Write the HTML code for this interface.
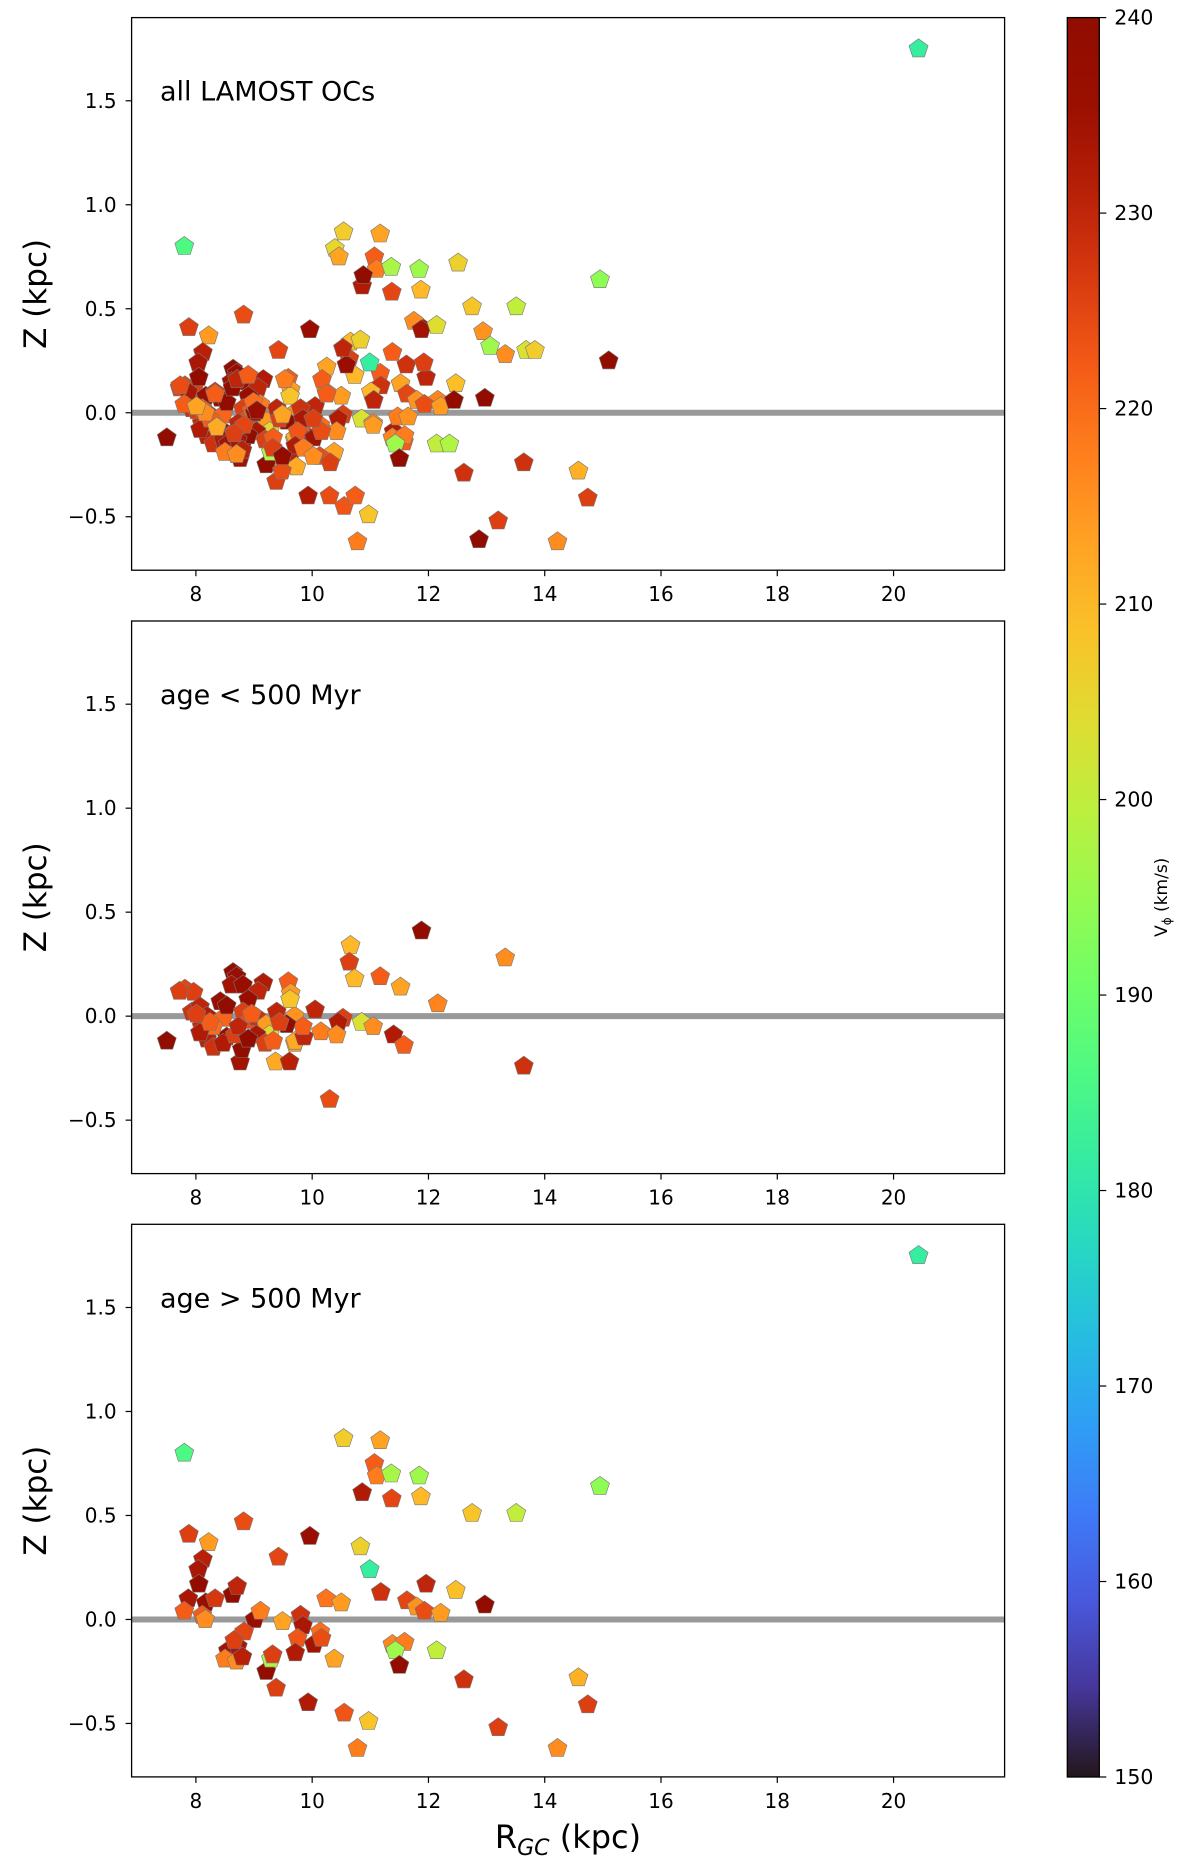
<!DOCTYPE html>
<html><head><meta charset="utf-8">
<style>
html,body{margin:0;padding:0;background:#fff;}
svg{display:block;font-family:"DejaVu Sans","Liberation Sans",sans-serif;}
</style></head>
<body>
<svg id="fig" width="1200" height="1865" viewBox="0 0 1200 1865" xmlns="http://www.w3.org/2000/svg">
<defs><linearGradient id="cbgrad" x1="0" y1="1" x2="0" y2="0"></linearGradient></defs>
</svg>
<script>
// ---- data: [R_GC (kpc), Z (kpc), V_phi (km/s)] ----
const youngR = [11.88,13.32,10.66,10.64,10.73,11.17,11.52,12.16,10.05,10.53,10.45,10.85,11.05,10.15,10.42,11.4,11.58,13.64,10.30,9.37,9.61,9.70,9.71,9.86,9.70,9.84,9.59,9.63,9.62,7.81,7.96,7.93,8.07,8.19,8.10,8.19,8.30,8.42,8.47,8.53,8.64,8.70,8.61,8.81,8.76,8.79,9.16,9.07,8.90,8.81,8.93,9.04,9.21,9.27,9.04,9.19,9.39,9.56,9.44,8.53,8.47,8.67,8.30,8.73,8.07,8.24,9.33,8.90,8.01,8.96,7.5,7.72];
const youngZ = [0.41,0.28,0.34,0.26,0.18,0.19,0.14,0.06,0.03,-0.01,-0.03,-0.03,-0.05,-0.075,-0.09,-0.09,-0.14,-0.24,-0.40,-0.22,-0.22,-0.13,-0.12,-0.10,0.00,-0.05,0.165,0.11,0.08,0.13,0.115,0.02,0.045,0.00,-0.05,-0.11,-0.15,0.07,-0.01,0.05,0.21,0.19,0.15,0.15,-0.22,-0.16,0.16,0.12,0.08,0.02,-0.02,-0.005,-0.04,-0.09,-0.09,-0.13,0.02,-0.04,-0.03,-0.10,-0.13,-0.09,-0.05,-0.05,-0.08,-0.03,-0.12,-0.11,0.01,0.01,-0.12,0.12];
const youngV = [238,216,210,226,210,222,213,217,230,226,232,203,216,218,216,232,222,228,224,212,231,214,212,230,215,222,222,214,208,225,226,228,230,232,229,231,228,236,221,238,238,236,234,236,234,238,232,230,236,226,224,228,214,205,233,226,230,237,226,238,232,226,220,230,232,222,222,238,226,222,238,226];

const oldR = [20.43,7.80,10.54,11.17,11.07,11.11,11.36,11.84,10.86,11.37,11.87,14.95,12.75,13.51,7.88,8.22,8.82,9.96,10.83,9.42,10.99,8.12,8.04,8.05,7.87,8.17,8.33,8.63,8.71,7.80,8.11,8.16,9.01,9.11,9.49,9.80,9.84,10.24,10.50,11.18,11.96,11.63,11.80,11.93,12.21,12.47,12.97,8.83,8.55,8.72,8.66,8.50,8.70,8.80,9.21,9.29,9.32,9.38,9.75,9.71,10.03,10.14,10.16,10.38,9.93,10.55,10.97,10.78,11.38,11.59,11.43,11.50,12.14,12.61,13.20,14.22,14.58,14.74];
const oldZ = [1.75,0.80,0.87,0.86,0.75,0.69,0.70,0.69,0.61,0.58,0.59,0.64,0.51,0.51,0.41,0.37,0.47,0.40,0.35,0.30,0.24,0.29,0.24,0.17,0.10,0.08,0.10,0.12,0.16,0.04,0.02,0.00,0.00,0.04,-0.01,0.02,-0.03,0.10,0.08,0.13,0.17,0.09,0.06,0.04,0.03,0.14,0.07,-0.06,-0.15,-0.13,-0.10,-0.19,-0.20,-0.18,-0.25,-0.19,-0.17,-0.33,-0.09,-0.16,-0.12,-0.06,-0.09,-0.19,-0.40,-0.45,-0.49,-0.62,-0.12,-0.11,-0.15,-0.22,-0.15,-0.29,-0.52,-0.62,-0.28,-0.41];
const oldV = [182,186,207,213,222,218,197,196,232,225,210,194,208,200,226,214,224,236,206,225,182,231,233,237,233,236,227,237,230,222,222,216,236,218,213,228,233,219,214,228,230,225,215,224,214,209,238,225,234,233,226,218,216,231,238,198,226,226,223,232,234,220,224,213,232,223,208,218,217,218,196,238,200,228,226,216,211,226];

// clusters without age (shown only in "all" panel)
const extraR = [10.39,10.46,10.88,12.51,11.75,11.88,12.14,12.94,13.06,13.68,13.83,12.44,11.62,11.92,11.38,11.01,11.06,11.05,10.59,10.53,10.25,10.17,10.25,11.47,11.65,12.36,8.90,9.53,10.02,9.85,10.13,10.31,9.73,9.48,9.49,10.74,10.02,7.73,8.33,8.01,8.99,8.36,8.70,9.05,15.1,12.87];
const extraZ = [0.79,0.75,0.66,0.72,0.44,0.40,0.42,0.39,0.32,0.30,0.30,0.06,0.23,0.24,0.29,0.10,0.06,-0.06,0.23,0.31,0.22,0.16,0.09,-0.02,-0.02,-0.15,0.18,0.16,-0.03,-0.17,-0.21,-0.24,-0.26,-0.28,-0.21,-0.40,-0.21,0.13,0.09,0.03,0.05,-0.07,-0.20,0.01,0.25,-0.61];
const extraV = [205,213,238,206,216,234,204,215,196,203,207,238,228,226,222,210,230,214,236,230,213,222,222,218,215,198,222,218,226,218,224,226,212,224,238,222,216,224,222,213,220,212,216,236,238,239];

const xTicks = [8,10,12,14,16,18,20];
const yTicks = [-0.5,0.0,0.5,1.0,1.5];
const yTickLabels = ["\u22120.5","0.0","0.5","1.0","1.5"];
const cbTicks = [150,160,170,180,190,200,210,220,230,240];
const panelLabels = ["all LAMOST OCs","age < 500 Myr","age > 500 Myr"];

// ---- layout ----
const NS = "http://www.w3.org/2000/svg";
const svg = document.getElementById('fig');
const L = 131.6, W = 873, H = 552.6;
const tops = [17.6, 621, 1224.3];
const xMin = 6.894, xMax = 21.91, yMin = -0.757, yMax = 1.90;
const vMin = 150, vMax = 240;
function xs(v){ return L + (v - xMin) / (xMax - xMin) * W; }
function ys(v, top){ return top + (yMax - v) / (yMax - yMin) * H; }
function turbo(t){
  t = Math.max(0, Math.min(1, t));
  const r = 0.13572138 + t*(4.61539260 + t*(-42.66032258 + t*(132.13108234 + t*(-152.94239396 + t*59.28637943))));
  const g = 0.09140261 + t*(2.19418839 + t*(4.84296658 + t*(-14.18503333 + t*(4.27729857 + t*2.82956604))));
  const b = 0.10667330 + t*(12.64194608 + t*(-60.58204836 + t*(110.36276771 + t*(-89.90310912 + t*27.34824973))));
  const c = v => Math.round(Math.max(0, Math.min(1, v)) * 255);
  return `rgb(${c(r)},${c(g)},${c(b)})`;
}
function colorOf(v){ return turbo((v - vMin) / (vMax - vMin)); }
function mk(tag, attrs, parent){
  const e = document.createElementNS(NS, tag);
  for (const k in attrs) e.setAttribute(k, attrs[k]);
  (parent || svg).appendChild(e);
  return e;
}
function pent(cx, cy, r){
  let p = [];
  for (let i = 0; i < 5; i++){
    const a = -Math.PI/2 + i * 2 * Math.PI / 5;
    p.push((cx + r*Math.cos(a)).toFixed(1) + ',' + (cy + r*Math.sin(a)).toFixed(1));
  }
  return p.join(' ');
}

function drawPanel(idx, sets){
  const top = tops[idx];
  const g = mk('g', {});
  
  
  const zl = mk('line', {x1:L, x2:L+W, y1:ys(0,top), y2:ys(0,top), stroke:'#999', 'stroke-width':6}, g);
  
  
  const pg = mk('g', {}, g);
  
  
  sets.forEach(s => {
    for (let i = 0; i < s[0].length; i++){
      const p = mk('polygon', {points: pent(xs(s[0][i]), ys(s[1][i], top), 10), fill: colorOf(s[2][i]), stroke:'#777', 'stroke-width':0.6}, pg);
      
      
    }
  });
  const fr = mk('rect', {x:L, y:top, width:W, height:H, fill:'none', stroke:'#000', 'stroke-width':1.3}, g);
  
  
  xTicks.forEach(t => {
    const x = xs(t);
    const tl = mk('line', {x1:x, x2:x, y1:top+H, y2:top+H+6, stroke:'#000', 'stroke-width':1.2}, g);
    
    
    const tx = mk('text', {x:x, y:top+H+31, 'text-anchor':'middle', 'font-size':20, fill:'#000'}, g);
    tx.textContent = t;
    
    
  });
  yTicks.forEach((t, k) => {
    const y = ys(t, top);
    const tl = mk('line', {x1:L-6, x2:L, y1:y, y2:y, stroke:'#000', 'stroke-width':1.2}, g);
    
    
    const tx = mk('text', {x:L-15, y:y+7, 'text-anchor':'end', 'font-size':20, fill:'#000'}, g);
    tx.textContent = yTickLabels[k];
    
    
  });
  const yl = mk('text', {x:0, y:0, 'text-anchor':'middle', 'font-size':31, fill:'#000', transform:`translate(46,${top+H/2}) rotate(-90)`}, g);
  yl.textContent = 'Z (kpc)';
  
  
  const pl = mk('text', {x:160, y:top+83, 'font-size':27, fill:'#000'}, g);
  pl.textContent = panelLabels[idx];
  
  
}

drawPanel(0, [[youngR,youngZ,youngV],[oldR,oldZ,oldV],[extraR,extraZ,extraV]]);
drawPanel(1, [[youngR,youngZ,youngV]]);
drawPanel(2, [[oldR,oldZ,oldV]]);

const xl = mk('text', {x:568, y:1848, 'text-anchor':'middle', 'font-size':32, fill:'#000'});


xl.innerHTML = 'R<tspan font-size="22" dy="7" font-style="italic">GC</tspan><tspan dy="-7"> (kpc)</tspan>';

const grad = document.getElementById('cbgrad');
for (let i = 0; i <= 20; i++){
  mk('stop', {offset: (i/20), 'stop-color': turbo(i/20)}, grad);
}
const cbX = 1067.3, cbW = 32, cbTop = 17.6, cbBot = 1777;
function cbY(v){ return cbBot - (v - vMin) / (vMax - vMin) * (cbBot - cbTop); }
const cb = mk('rect', {x:cbX, y:cbTop, width:cbW, height:cbBot-cbTop, fill:'url(#cbgrad)', stroke:'#000', 'stroke-width':1.3});


cbTicks.forEach(t => {
  const y = cbY(t);
  const tl = mk('line', {x1:cbX+cbW, x2:cbX+cbW+7, y1:y, y2:y, stroke:'#000', 'stroke-width':1.2});
  
  
  const tx = mk('text', {x:cbX+cbW+15, y:y+7, 'font-size':20.5, fill:'#000'});
  tx.textContent = t;
  
  
});
const cl = mk('text', {x:0, y:0, 'text-anchor':'middle', 'font-size':17, fill:'#000', transform:`translate(1167,${(cbTop+cbBot)/2}) rotate(-90)`});
cl.innerHTML = 'V<tspan font-size="12" dy="4">\u03d5</tspan><tspan dy="-4"> (km/s)</tspan>';


</script>
</body></html>
